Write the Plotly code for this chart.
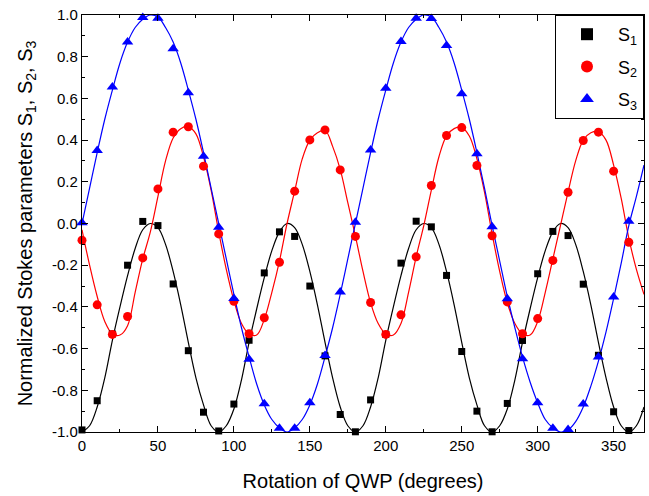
import plotly.graph_objects as go

# measured points (every 10 degrees)
angles = list(range(0, 361, 10))
s1 = [-0.99, -0.85, -0.53, -0.20, 0.01, -0.01, -0.29, -0.61, -0.905, -0.995,
      -0.866, -0.56, -0.237, -0.04, -0.062, -0.30, -0.635, -0.916, -0.999, -0.846,
      -0.532, -0.19, 0.011, -0.016, -0.249, -0.614, -0.90, -0.999, -0.863, -0.561,
      -0.241, -0.038, -0.058, -0.291, -0.632, -0.903, -0.993]
s2 = [-0.08, -0.39, -0.532, -0.446, -0.165, 0.166, 0.438, 0.464, 0.275, -0.05,
      -0.373, -0.529, -0.452, -0.186, 0.155, 0.401, 0.449, 0.257, -0.062, -0.379,
      -0.532, -0.438, -0.16, 0.182, 0.422, 0.46, 0.278, -0.059, -0.376, -0.529,
      -0.456, -0.177, 0.15, 0.398, 0.438, 0.251, -0.09]
s3 = [0.003, 0.35, 0.655, 0.87, 0.988, 0.985, 0.838, 0.627, 0.323, -0.018,
      -0.36, -0.651, -0.865, -0.982, -0.982, -0.86, -0.633, -0.328, 0.006, 0.352,
      0.649, 0.873, 0.985, 0.983, 0.854, 0.622, 0.334, -0.016, -0.361, -0.649,
      -0.86, -0.982, -0.988, -0.866, -0.64, -0.352, 0.011]

# fitted curves (every 5 degrees)
fit_angles = list(range(0, 371, 5))
s1_fit = [-1.00, -0.97, -0.88, -0.74, -0.56, -0.40, -0.25, -0.12, -0.03, 0.00, -0.02, -0.10, -0.23, -0.39, -0.57, -0.74, -0.87, -0.97,
          -1.00, -0.97, -0.89, -0.75, -0.57, -0.41, -0.26, -0.13, -0.04, 0.00, -0.02, -0.10, -0.23, -0.39, -0.57, -0.74, -0.88, -0.97,
          -1.00, -0.97, -0.88, -0.74, -0.56, -0.40, -0.25, -0.12, -0.03, 0.00, -0.02, -0.10, -0.23, -0.39, -0.57, -0.74, -0.87, -0.97,
          -1.00, -0.97, -0.89, -0.75, -0.57, -0.41, -0.26, -0.13, -0.04, 0.00, -0.02, -0.10, -0.23, -0.39, -0.57, -0.74, -0.88, -0.97,
          -1.00, -0.97, -0.88]
s2_fit = [-0.03, -0.20, -0.35, -0.47, -0.53, -0.535, -0.49, -0.33, -0.17, -0.04, 0.13, 0.30, 0.41, 0.455, 0.465, 0.43, 0.32, 0.16,
          -0.04, -0.22, -0.37, -0.48, -0.53, -0.535, -0.46, -0.33, -0.18, 0.00, 0.155, 0.31, 0.40, 0.435, 0.447, 0.37, 0.26, 0.10,
          -0.06, -0.23, -0.38, -0.48, -0.53, -0.535, -0.48, -0.33, -0.16, -0.01, 0.16, 0.32, 0.42, 0.455, 0.46, 0.42, 0.31, 0.15,
          -0.05, -0.23, -0.38, -0.48, -0.53, -0.535, -0.47, -0.33, -0.17, -0.01, 0.15, 0.30, 0.40, 0.435, 0.44, 0.40, 0.28, 0.12,
          -0.07, -0.22, -0.34]
s3_fit = [0.00, 0.17, 0.34, 0.50, 0.64, 0.77, 0.87, 0.94, 0.98, 1.00, 0.99, 0.94, 0.87, 0.77, 0.64, 0.50, 0.34, 0.17,
          0.00, -0.17, -0.34, -0.50, -0.64, -0.77, -0.87, -0.94, -0.98, -1.00, -0.98, -0.94, -0.87, -0.77, -0.64, -0.50, -0.34, -0.17,
          0.00, 0.17, 0.34, 0.50, 0.64, 0.77, 0.87, 0.94, 0.98, 1.00, 0.99, 0.94, 0.87, 0.77, 0.64, 0.50, 0.34, 0.17,
          -0.01, -0.18, -0.35, -0.50, -0.64, -0.76, -0.86, -0.94, -0.98, -1.00, -0.99, -0.95, -0.88, -0.78, -0.66, -0.52, -0.36, -0.19,
          -0.01, 0.13, 0.28]

x_ticks = [0, 50, 100, 150, 200, 250, 300, 350]
y_ticks = [-1.0, -0.8, -0.6, -0.4, -0.2, 0.0, 0.2, 0.4, 0.6, 0.8, 1.0]
y_ticktext = ["-1.0", "-0.8", "-0.6", "-0.4", "-0.2", "0.0", "0.2", "0.4", "0.6", "0.8", "1.0"]

names = ["S<sub>1</sub>", "S<sub>2</sub>", "S<sub>3</sub>"]
colors = ["#000000", "#ff0000", "#0000ff"]
symbols = ["square", "circle", "triangle-up"]
sizes = [7, 9, 10]

FONT = "Arial, Liberation Sans, sans-serif"

fig = go.Figure()
for fit, col in zip([s1_fit, s2_fit, s3_fit], colors):
    fig.add_trace(go.Scatter(x=fit_angles, y=fit, mode="lines",
                             line=dict(color=col, width=1.2, shape="spline", smoothing=1.0),
                             showlegend=False, hoverinfo="skip"))
for i, (vals, name, col, sym, sz) in enumerate(zip([s1, s2, s3], names, colors, symbols, sizes)):
    fig.add_trace(go.Scatter(x=angles, y=vals, mode="markers", name=name, legendgroup="g%d" % i,
                             marker=dict(color=col, symbol=sym, size=sz, line=dict(width=0)),
                             cliponaxis=False))

axis_common = dict(showline=True, linecolor="black", linewidth=1.2, mirror="allticks",
                   ticks="inside", ticklen=6, tickwidth=1.2, tickcolor="black",
                   showgrid=False, zeroline=False, automargin=False,
                   tickfont=dict(family=FONT, size=15, color="black"))

fig.update_xaxes(range=[0, 370], tickvals=x_ticks,
                 minor=dict(dtick=25, tick0=0, ticks="inside", ticklen=3, tickcolor="black", tickwidth=1.2),
                 title=dict(text="Rotation of QWP (degrees)", font=dict(family=FONT, size=20, color="black"), standoff=20),
                 **axis_common)
fig.update_yaxes(range=[-1.0, 1.0], tickvals=y_ticks, ticktext=y_ticktext,
                 minor=dict(dtick=0.1, tick0=0, ticks="inside", ticklen=3, tickcolor="black", tickwidth=1.2),
                 title=dict(text="Normalized Stokes parameters S<sub>1</sub>, S<sub>2</sub>, S<sub>3</sub>",
                            font=dict(family=FONT, size=20, color="black"), standoff=14),
                 **axis_common)

fig.update_layout(
    width=649, height=496,
    margin=dict(l=82, r=5, t=15, b=64),
    plot_bgcolor="white", paper_bgcolor="white",
    font=dict(family=FONT, color="black"),
    legend=dict(x=1, y=1, xanchor="right", yanchor="top",
                bordercolor="black", borderwidth=1, bgcolor="white",
                font=dict(family=FONT, size=18, color="black"),
                tracegroupgap=6, itemsizing="constant", itemwidth=52),
)

fig.write_html("out.html", config={"displayModeBar": False},
               post_script="document.body.style.margin='0px';")
